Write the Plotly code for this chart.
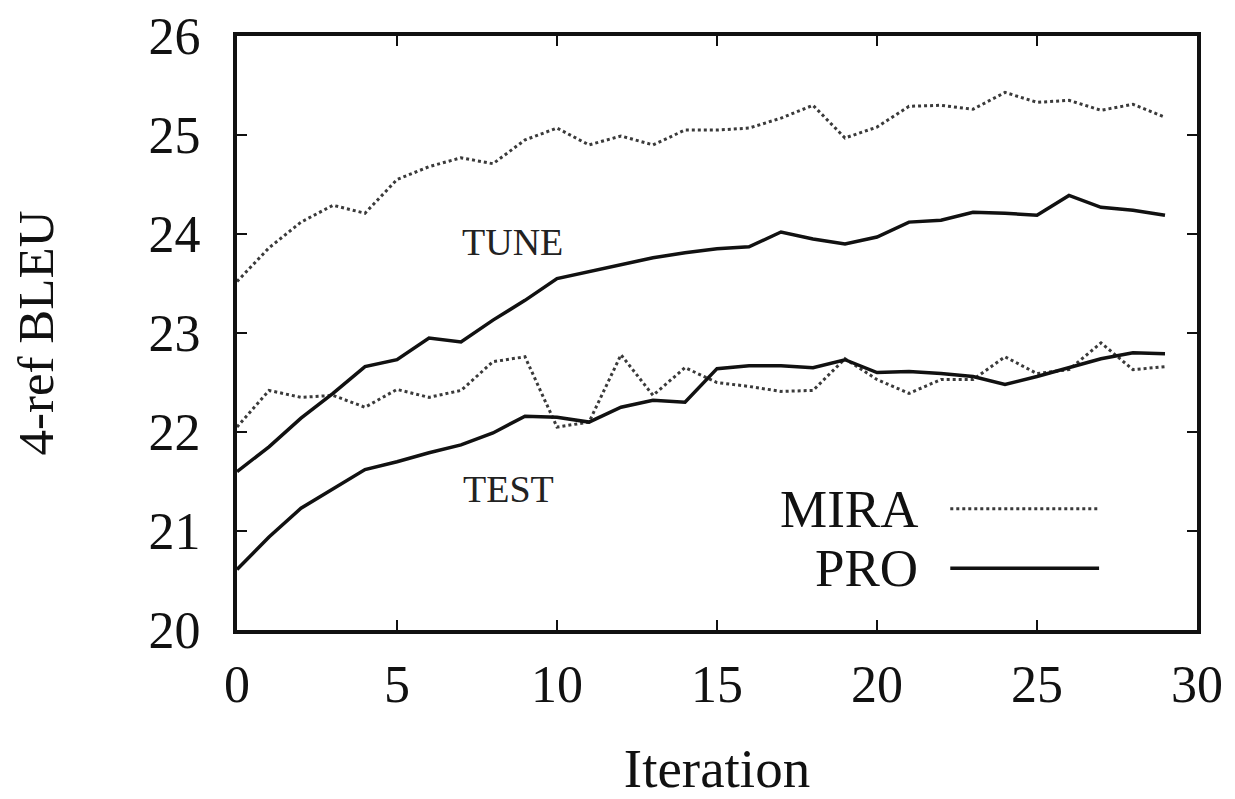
import plotly.graph_objects as go

iterations = list(range(30))

mira_tune = [23.52, 23.86, 24.12, 24.29, 24.21, 24.55, 24.68, 24.77, 24.71, 24.95,
             25.07, 24.90, 24.99, 24.90, 25.05, 25.05, 25.07, 25.17, 25.30, 24.97,
             25.08, 25.29, 25.30, 25.26, 25.43, 25.33, 25.35, 25.25, 25.31, 25.18]
pro_tune = [21.60, 21.85, 22.14, 22.39, 22.66, 22.73, 22.95, 22.91, 23.13, 23.33,
            23.55, 23.62, 23.69, 23.76, 23.81, 23.85, 23.87, 24.02, 23.95, 23.90,
            23.97, 24.12, 24.14, 24.22, 24.21, 24.19, 24.39, 24.27, 24.24, 24.19]
mira_test = [22.05, 22.42, 22.35, 22.37, 22.25, 22.43, 22.35, 22.42, 22.71, 22.76,
             22.05, 22.10, 22.78, 22.37, 22.65, 22.50, 22.46, 22.41, 22.42, 22.74,
             22.53, 22.39, 22.53, 22.53, 22.76, 22.59, 22.63, 22.90, 22.63, 22.66]
pro_test = [20.61, 20.94, 21.23, 21.43, 21.62, 21.70, 21.79, 21.87, 21.99, 22.16,
            22.15, 22.10, 22.25, 22.32, 22.30, 22.64, 22.67, 22.67, 22.65, 22.73,
            22.60, 22.61, 22.59, 22.56, 22.48, 22.56, 22.65, 22.74, 22.80, 22.79]

x_ticks = [0, 5, 10, 15, 20, 25, 30]
y_ticks = [20, 21, 22, 23, 24, 25, 26]

FONT = "Liberation Serif, Times New Roman, serif"
mira_style = dict(color="#3a3a3a", width=3, dash="dot")
pro_style = dict(color="#111111", width=3.5)

fig = go.Figure()
fig.add_trace(go.Scatter(x=iterations, y=mira_tune, mode="lines", name="MIRA", line=mira_style, showlegend=False))
fig.add_trace(go.Scatter(x=iterations, y=mira_test, mode="lines", name="MIRA", line=mira_style, showlegend=False))
fig.add_trace(go.Scatter(x=iterations, y=pro_tune, mode="lines", name="PRO", line=pro_style, showlegend=False))
fig.add_trace(go.Scatter(x=iterations, y=pro_test, mode="lines", name="PRO", line=pro_style, showlegend=False))

axis_common = dict(
    showline=True, linecolor="#111", linewidth=4, mirror="allticks",
    ticks="inside", ticklen=10, tickwidth=2, tickcolor="#111",
    showgrid=False, zeroline=False,
    tickfont=dict(family=FONT, size=52, color="#111"),
)

fig.update_xaxes(range=[0, 30], tickvals=x_ticks, ticklabelstandoff=6,
                 title=dict(text="Iteration", font=dict(family=FONT, size=55, color="#111"), standoff=38),
                 **axis_common)
fig.update_yaxes(range=[20, 26], tickvals=y_ticks, ticklabelstandoff=22,
                 title=dict(text="4-ref BLEU", font=dict(family=FONT, size=51, color="#111"), standoff=80),
                 **axis_common)

# Curve labels
fig.add_annotation(x=8.6, y=23.92, text="TUNE", showarrow=False,
                   font=dict(family=FONT, size=38, color="#222"))
fig.add_annotation(x=8.47, y=21.42, text="TEST", showarrow=False,
                   font=dict(family=FONT, size=38, color="#222"))

# Gnuplot-style key (text on left, sample on right)
for label, yp, style in [("MIRA", 0.204, mira_style), ("PRO", 0.104, pro_style)]:
    fig.add_annotation(xref="paper", yref="paper", x=0.711, y=yp, text=label,
                       xanchor="right", yanchor="middle", showarrow=False,
                       height=50, valign="middle",
                       font=dict(family=FONT, size=53, color="#111"))
    fig.add_shape(type="line", xref="paper", yref="paper", x0=0.743, x1=0.898,
                  y0=yp, y1=yp, line=style)

fig.update_layout(
    width=1235, height=799,
    margin=dict(l=237, r=38, t=36, b=169, autoexpand=False),
    plot_bgcolor="white", paper_bgcolor="white",
    showlegend=False,
)

fig.write_html("out.html", config={"displayModeBar": False},
               post_script="document.body.style.margin='0px';")
